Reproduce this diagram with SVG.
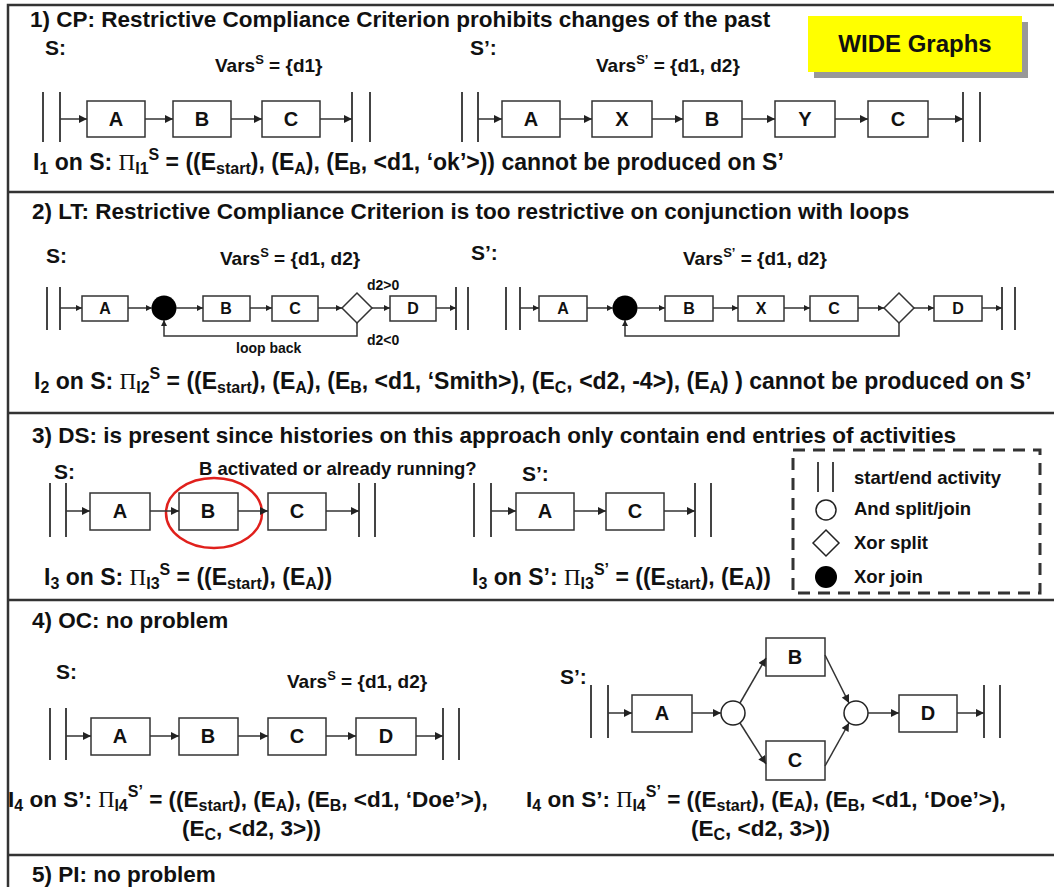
<svg xmlns="http://www.w3.org/2000/svg" width="1054" height="887" viewBox="0 0 1054 887">
<style>
text{font-family:"Liberation Sans",Arial,sans-serif;font-weight:bold;fill:#111}
.title{font-size:22.5px}
.lbl{font-size:21px}
.vars{font-size:19px}
.sup{font-size:13px}
.it{font-size:23px}
.it4{font-size:22.5px}
.sub{font-size:16px}
.sp{font-size:16px}
.pi{font-family:"Liberation Serif","Times New Roman",serif;font-weight:normal}
.bl{font-size:20px;text-anchor:middle}
.bs{font-size:16px;text-anchor:middle}
.sm{font-size:14px}
.leg{font-size:18.5px}
.box{fill:#fff;stroke:#333;stroke-width:1.5}
.bar{stroke:#444;stroke-width:2}
.con{stroke:#333;stroke-width:1.5;fill:none}
.frame{stroke:#333;stroke-width:2.5;fill:none}
</style>
<defs>
<marker id="ah" viewBox="0 0 10 10" refX="10" refY="5" markerWidth="9" markerHeight="8" orient="auto" markerUnits="userSpaceOnUse"><path d="M0,0 L10,5 L0,10 z" fill="#222"/></marker>
<marker id="ahs" viewBox="0 0 10 10" refX="10" refY="5" markerWidth="7" markerHeight="6" orient="auto" markerUnits="userSpaceOnUse"><path d="M0,0 L10,5 L0,10 z" fill="#222"/></marker>
</defs>
<rect width="1054" height="887" fill="#fff"/>
<g id="frame" class="frame">
<path d="M1054,5 H8 V887"/>
<path d="M8,192 H1054 M8,413 H1054 M8,600 H1054 M8,855 H1054"/>
</g>

<!-- Section 1 -->
<text class="title" x="30" y="27">1) CP: Restrictive Compliance Criterion prohibits changes of the past</text>
<g id="wide"><rect x="814" y="22" width="214" height="56" fill="#999"/><rect x="808" y="16" width="214" height="56" fill="#ffff00"/><text x="915" y="52" style="font-size:24px;text-anchor:middle">WIDE Graphs</text></g>
<text class="lbl" x="45" y="55">S:</text>
<text class="vars" x="215" y="72">Vars<tspan class="sup" dy="-8">S</tspan><tspan dy="8"> = {d1}</tspan></text>
<text class="lbl" x="470" y="55">S’:</text>
<text class="vars" x="596" y="72">Vars<tspan class="sup" dy="-8">S’</tspan><tspan dy="8"> = {d1, d2}</tspan></text>

<g id="s1-start" class="bar"><line x1="43" y1="92" x2="43" y2="142"/><line x1="60" y1="92" x2="60" y2="142"/></g>
<g id="s1-A"><rect class="box" x="87" y="101" width="58" height="36"/><text class="bl" x="116" y="126">A</text></g>
<g id="s1-B"><rect class="box" x="173" y="101" width="58" height="36"/><text class="bl" x="202" y="126">B</text></g>
<g id="s1-C"><rect class="box" x="262" y="101" width="58" height="36"/><text class="bl" x="291" y="126">C</text></g>
<g id="s1-end" class="bar"><line x1="352" y1="92" x2="352" y2="142"/><line x1="370" y1="92" x2="370" y2="142"/></g>

<g id="s1p-start" class="bar"><line x1="462" y1="92" x2="462" y2="142"/><line x1="478" y1="92" x2="478" y2="142"/></g>
<g id="s1p-A"><rect class="box" x="502" y="101" width="58" height="36"/><text class="bl" x="531" y="126">A</text></g>
<g id="s1p-X"><rect class="box" x="592" y="101" width="60" height="36"/><text class="bl" x="622" y="126">X</text></g>
<g id="s1p-B"><rect class="box" x="683" y="101" width="59" height="36"/><text class="bl" x="712" y="126">B</text></g>
<g id="s1p-Y"><rect class="box" x="775" y="101" width="60" height="36"/><text class="bl" x="805" y="126">Y</text></g>
<g id="s1p-C"><rect class="box" x="868" y="101" width="60" height="36"/><text class="bl" x="898" y="126">C</text></g>
<g id="s1p-end" class="bar"><line x1="963" y1="92" x2="963" y2="142"/><line x1="980" y1="92" x2="980" y2="142"/></g>

<text class="it" x="33" y="170">I<tspan class="sub" dy="4">1</tspan><tspan dy="-4"> on S: </tspan><tspan class="pi">Π</tspan><tspan class="sub" dy="4">I1</tspan><tspan class="sp" dy="-14">S</tspan><tspan dy="10"> = ((E</tspan><tspan class="sub" dy="4">start</tspan><tspan dy="-4">), (E</tspan><tspan class="sub" dy="4">A</tspan><tspan dy="-4">),  (E</tspan><tspan class="sub" dy="4">B</tspan><tspan dy="-4">, &lt;d1, ‘ok’&gt;)) cannot be produced on S’</tspan></text>

<!-- Section 2 -->
<text class="title" x="32" y="219">2) LT: Restrictive Compliance Criterion is too restrictive on conjunction with loops</text>
<text class="lbl" x="46" y="263">S:</text>
<text class="vars" x="220" y="265">Vars<tspan class="sup" dy="-8">S</tspan><tspan dy="8"> = {d1, d2}</tspan></text>
<text class="lbl" x="471" y="260">S’:</text>
<text class="vars" x="683" y="265">Vars<tspan class="sup" dy="-8">S’</tspan><tspan dy="8"> = {d1, d2}</tspan></text>

<g id="s2-start" class="bar"><line x1="47" y1="287" x2="47" y2="330"/><line x1="60" y1="287" x2="60" y2="330"/></g>
<g id="s2-A"><rect class="box" x="82" y="296" width="46" height="25"/><text class="bs" x="105" y="314">A</text></g>
<g id="s2-J"><circle cx="164" cy="308" r="12.5" fill="#000"/></g>
<g id="s2-B"><rect class="box" x="203" y="296" width="47" height="25"/><text class="bs" x="226" y="314">B</text></g>
<g id="s2-C"><rect class="box" x="272" y="296" width="46" height="25"/><text class="bs" x="295" y="314">C</text></g>
<g id="s2-X"><path class="box" d="M342,308 L357,293 L372,308 L357,323 Z"/></g>
<g id="s2-D"><rect class="box" x="390" y="296" width="46" height="25"/><text class="bs" x="413" y="314">D</text></g>
<g id="s2-end" class="bar"><line x1="456" y1="287" x2="456" y2="330"/><line x1="468" y1="287" x2="468" y2="330"/></g>
<text class="sm" x="367" y="290">d2&gt;0</text>
<text class="sm" x="367" y="345">d2&lt;0</text>
<text class="sm" x="236" y="353">loop back</text>

<g id="s2p-start" class="bar"><line x1="506" y1="287" x2="506" y2="330"/><line x1="520" y1="287" x2="520" y2="330"/></g>
<g id="s2p-A"><rect class="box" x="539" y="296" width="48" height="25"/><text class="bs" x="563" y="314">A</text></g>
<g id="s2p-J"><circle cx="625" cy="308" r="12.5" fill="#000"/></g>
<g id="s2p-B"><rect class="box" x="665" y="296" width="48" height="25"/><text class="bs" x="689" y="314">B</text></g>
<g id="s2p-X"><rect class="box" x="738" y="296" width="46" height="25"/><text class="bs" x="761" y="314">X</text></g>
<g id="s2p-C"><rect class="box" x="810" y="296" width="48" height="25"/><text class="bs" x="834" y="314">C</text></g>
<g id="s2p-S"><path class="box" d="M884,308 L899,293 L914,308 L899,323 Z"/></g>
<g id="s2p-D"><rect class="box" x="934" y="296" width="48" height="25"/><text class="bs" x="958" y="314">D</text></g>
<g id="s2p-end" class="bar"><line x1="1002" y1="287" x2="1002" y2="330"/><line x1="1015" y1="287" x2="1015" y2="330"/></g>

<text class="it" x="34" y="389">I<tspan class="sub" dy="4">2</tspan><tspan dy="-4"> on S: </tspan><tspan class="pi">Π</tspan><tspan class="sub" dy="4">I2</tspan><tspan class="sp" dy="-14">S</tspan><tspan dy="10"> = ((E</tspan><tspan class="sub" dy="4">start</tspan><tspan dy="-4">), (E</tspan><tspan class="sub" dy="4">A</tspan><tspan dy="-4">),  (E</tspan><tspan class="sub" dy="4">B</tspan><tspan dy="-4">, &lt;d1, ‘Smith&gt;), (E</tspan><tspan class="sub" dy="4">C</tspan><tspan dy="-4">, &lt;d2, -4&gt;), (E</tspan><tspan class="sub" dy="4">A</tspan><tspan dy="-4">) ) cannot be produced on S’</tspan></text>

<!-- Section 3 -->
<text class="title" x="32" y="443">3) DS: is present since histories on this approach only contain end entries of activities</text>
<text class="lbl" x="54" y="479">S:</text>
<text style="font-size:18.5px" x="199" y="475">B activated or already running?</text>
<text class="lbl" x="522" y="481">S’:</text>

<g id="s3-start" class="bar"><line x1="50" y1="483" x2="50" y2="537"/><line x1="66" y1="483" x2="66" y2="537"/></g>
<g id="s3-A"><rect class="box" x="90" y="493" width="60" height="37"/><text class="bl" x="120" y="518">A</text></g>
<g id="s3-B"><rect class="box" x="179" y="493" width="59" height="37"/><text class="bl" x="208" y="518">B</text></g>
<g id="s3-C"><rect class="box" x="268" y="493" width="58" height="37"/><text class="bl" x="297" y="518">C</text></g>
<g id="s3-end" class="bar"><line x1="359" y1="483" x2="359" y2="537"/><line x1="375" y1="483" x2="375" y2="537"/></g>
<g id="s3-mark"><ellipse cx="214" cy="513" rx="48" ry="35" fill="none" stroke="#e0201c" stroke-width="2.5"/></g>

<g id="s3p-start" class="bar"><line x1="474" y1="483" x2="474" y2="537"/><line x1="491" y1="483" x2="491" y2="537"/></g>
<g id="s3p-A"><rect class="box" x="516" y="493" width="58" height="37"/><text class="bl" x="545" y="518">A</text></g>
<g id="s3p-C"><rect class="box" x="606" y="493" width="58" height="37"/><text class="bl" x="635" y="518">C</text></g>
<g id="s3p-end" class="bar"><line x1="695" y1="483" x2="695" y2="537"/><line x1="711" y1="483" x2="711" y2="537"/></g>

<text class="it" x="44" y="585">I<tspan class="sub" dy="4">3</tspan><tspan dy="-4"> on S: </tspan><tspan class="pi">Π</tspan><tspan class="sub" dy="4">I3</tspan><tspan class="sp" dy="-14">S</tspan><tspan dy="10"> = ((E</tspan><tspan class="sub" dy="4">start</tspan><tspan dy="-4">), (E</tspan><tspan class="sub" dy="4">A</tspan><tspan dy="-4">))</tspan></text>
<text class="it" x="472" y="585">I<tspan class="sub" dy="4">3</tspan><tspan dy="-4"> on S’: </tspan><tspan class="pi">Π</tspan><tspan class="sub" dy="4">I3</tspan><tspan class="sp" dy="-14">S’</tspan><tspan dy="10"> = ((E</tspan><tspan class="sub" dy="4">start</tspan><tspan dy="-4">), (E</tspan><tspan class="sub" dy="4">A</tspan><tspan dy="-4">))</tspan></text>

<g id="legend">
<rect x="793" y="450" width="247" height="143" fill="none" stroke="#333" stroke-width="3" stroke-dasharray="12,8"/>
<g class="bar"><line x1="818" y1="462" x2="818" y2="492"/><line x1="833" y1="462" x2="833" y2="492"/></g>
<text class="leg" x="854" y="484">start/end activity</text>
<circle cx="826" cy="510" r="10" fill="#fff" stroke="#222" stroke-width="1.5"/>
<text class="leg" x="854" y="515">And split/join</text>
<path d="M813,543 L826,530 L839,543 L826,556 Z" fill="#fff" stroke="#222" stroke-width="1.5"/>
<text class="leg" x="854" y="549">Xor split</text>
<circle cx="826" cy="577" r="11" fill="#000"/>
<text class="leg" x="854" y="583">Xor join</text>
</g>

<!-- Section 4 -->
<text class="title" x="32" y="628">4) OC: no problem</text>
<text class="lbl" x="56" y="679">S:</text>
<text class="vars" x="287" y="688">Vars<tspan class="sup" dy="-8">S</tspan><tspan dy="8"> = {d1, d2}</tspan></text>
<text class="lbl" x="560" y="684">S’:</text>

<g id="s4-start" class="bar"><line x1="50" y1="708" x2="50" y2="760"/><line x1="66" y1="708" x2="66" y2="760"/></g>
<g id="s4-A"><rect class="box" x="91" y="718" width="59" height="37"/><text class="bl" x="120" y="743">A</text></g>
<g id="s4-B"><rect class="box" x="179" y="718" width="59" height="37"/><text class="bl" x="208" y="743">B</text></g>
<g id="s4-C"><rect class="box" x="268" y="718" width="58" height="37"/><text class="bl" x="297" y="743">C</text></g>
<g id="s4-D"><rect class="box" x="356" y="718" width="60" height="37"/><text class="bl" x="386" y="743">D</text></g>
<g id="s4-end" class="bar"><line x1="443" y1="708" x2="443" y2="760"/><line x1="459" y1="708" x2="459" y2="760"/></g>

<g id="s4p-start" class="bar"><line x1="591" y1="685" x2="591" y2="738"/><line x1="608" y1="685" x2="608" y2="738"/></g>
<g id="s4p-A"><rect class="box" x="632" y="695" width="60" height="37"/><text class="bl" x="662" y="720">A</text></g>
<g id="s4p-and1"><circle cx="733" cy="713" r="12" fill="#fff" stroke="#222" stroke-width="1.5"/></g>
<g id="s4p-B"><rect class="box" x="766" y="638" width="59" height="38"/><text class="bl" x="795" y="664">B</text></g>
<g id="s4p-C"><rect class="box" x="766" y="741" width="59" height="39"/><text class="bl" x="795" y="767">C</text></g>
<g id="s4p-and2"><circle cx="856" cy="713" r="12" fill="#fff" stroke="#222" stroke-width="1.5"/></g>
<g id="s4p-D"><rect class="box" x="899" y="695" width="58" height="37"/><text class="bl" x="928" y="720">D</text></g>
<g id="s4p-end" class="bar"><line x1="984" y1="685" x2="984" y2="738"/><line x1="1000" y1="685" x2="1000" y2="738"/></g>

<text class="it4" x="8" y="807">I<tspan class="sub" dy="4">4</tspan><tspan dy="-4"> on S’: </tspan><tspan class="pi">Π</tspan><tspan class="sub" dy="4">I4</tspan><tspan class="sp" dy="-14">S’</tspan><tspan dy="10"> = ((E</tspan><tspan class="sub" dy="4">start</tspan><tspan dy="-4">), (E</tspan><tspan class="sub" dy="4">A</tspan><tspan dy="-4">), (E</tspan><tspan class="sub" dy="4">B</tspan><tspan dy="-4">, &lt;d1, ‘Doe’&gt;),</tspan></text>
<text class="it4" x="182" y="836">(E<tspan class="sub" dy="4">C</tspan><tspan dy="-4">, &lt;d2, 3&gt;))</tspan></text>
<text class="it4" x="526" y="807">I<tspan class="sub" dy="4">4</tspan><tspan dy="-4"> on S’: </tspan><tspan class="pi">Π</tspan><tspan class="sub" dy="4">I4</tspan><tspan class="sp" dy="-14">S’</tspan><tspan dy="10"> = ((E</tspan><tspan class="sub" dy="4">start</tspan><tspan dy="-4">), (E</tspan><tspan class="sub" dy="4">A</tspan><tspan dy="-4">), (E</tspan><tspan class="sub" dy="4">B</tspan><tspan dy="-4">, &lt;d1, ‘Doe’&gt;),</tspan></text>
<text class="it4" x="691" y="836">(E<tspan class="sub" dy="4">C</tspan><tspan dy="-4">, &lt;d2, 3&gt;))</tspan></text>

<text class="title" x="32" y="882">5) PI: no problem</text>

<!-- Connectors -->
<g id="connectors" class="con">
<line x1="60" y1="119" x2="87" y2="119" marker-end="url(#ah)"/>
<line x1="145" y1="119" x2="173" y2="119" marker-end="url(#ah)"/>
<line x1="231" y1="119" x2="262" y2="119" marker-end="url(#ah)"/>
<line x1="320" y1="119" x2="352" y2="119" marker-end="url(#ah)"/>
<line x1="478" y1="119" x2="502" y2="119" marker-end="url(#ah)"/>
<line x1="560" y1="119" x2="592" y2="119" marker-end="url(#ah)"/>
<line x1="652" y1="119" x2="683" y2="119" marker-end="url(#ah)"/>
<line x1="742" y1="119" x2="775" y2="119" marker-end="url(#ah)"/>
<line x1="835" y1="119" x2="868" y2="119" marker-end="url(#ah)"/>
<line x1="928" y1="119" x2="963" y2="119" marker-end="url(#ah)"/>

<line x1="60" y1="308" x2="82" y2="308" marker-end="url(#ahs)"/>
<line x1="128" y1="308" x2="152" y2="308" marker-end="url(#ahs)"/>
<line x1="176" y1="308" x2="203" y2="308" marker-end="url(#ahs)"/>
<line x1="250" y1="308" x2="272" y2="308" marker-end="url(#ahs)"/>
<line x1="318" y1="308" x2="342" y2="308" marker-end="url(#ahs)"/>
<line x1="372" y1="308" x2="390" y2="308" marker-end="url(#ahs)"/>
<line x1="436" y1="308" x2="456" y2="308" marker-end="url(#ahs)"/>
<path d="M357,323 V336 H164 V320" marker-end="url(#ahs)"/>
<line x1="520" y1="308" x2="539" y2="308" marker-end="url(#ahs)"/>
<line x1="587" y1="308" x2="613" y2="308" marker-end="url(#ahs)"/>
<line x1="637" y1="308" x2="665" y2="308" marker-end="url(#ahs)"/>
<line x1="713" y1="308" x2="738" y2="308" marker-end="url(#ahs)"/>
<line x1="784" y1="308" x2="810" y2="308" marker-end="url(#ahs)"/>
<line x1="858" y1="308" x2="884" y2="308" marker-end="url(#ahs)"/>
<line x1="914" y1="308" x2="934" y2="308" marker-end="url(#ahs)"/>
<line x1="982" y1="308" x2="1002" y2="308" marker-end="url(#ahs)"/>
<path d="M899,323 V336 H625 V320" marker-end="url(#ahs)"/>

<line x1="66" y1="511" x2="90" y2="511" marker-end="url(#ah)"/>
<line x1="150" y1="511" x2="179" y2="511" marker-end="url(#ah)"/>
<line x1="238" y1="511" x2="268" y2="511" marker-end="url(#ah)"/>
<line x1="326" y1="511" x2="359" y2="511" marker-end="url(#ah)"/>
<line x1="491" y1="511" x2="516" y2="511" marker-end="url(#ah)"/>
<line x1="574" y1="511" x2="606" y2="511" marker-end="url(#ah)"/>
<line x1="664" y1="511" x2="695" y2="511" marker-end="url(#ah)"/>

<line x1="66" y1="736" x2="91" y2="736" marker-end="url(#ah)"/>
<line x1="150" y1="736" x2="179" y2="736" marker-end="url(#ah)"/>
<line x1="238" y1="736" x2="268" y2="736" marker-end="url(#ah)"/>
<line x1="326" y1="736" x2="356" y2="736" marker-end="url(#ah)"/>
<line x1="416" y1="736" x2="443" y2="736" marker-end="url(#ah)"/>

<line x1="608" y1="713" x2="632" y2="713" marker-end="url(#ah)"/>
<line x1="692" y1="713" x2="721" y2="713" marker-end="url(#ah)"/>
<line x1="740" y1="703" x2="766" y2="658" marker-end="url(#ah)"/>
<line x1="740" y1="723" x2="766" y2="764" marker-end="url(#ah)"/>
<line x1="825" y1="655" x2="849" y2="703" marker-end="url(#ah)"/>
<line x1="825" y1="766" x2="849" y2="723" marker-end="url(#ah)"/>
<line x1="868" y1="713" x2="899" y2="713" marker-end="url(#ah)"/>
<line x1="957" y1="713" x2="984" y2="713" marker-end="url(#ah)"/>
</g>
</svg>
